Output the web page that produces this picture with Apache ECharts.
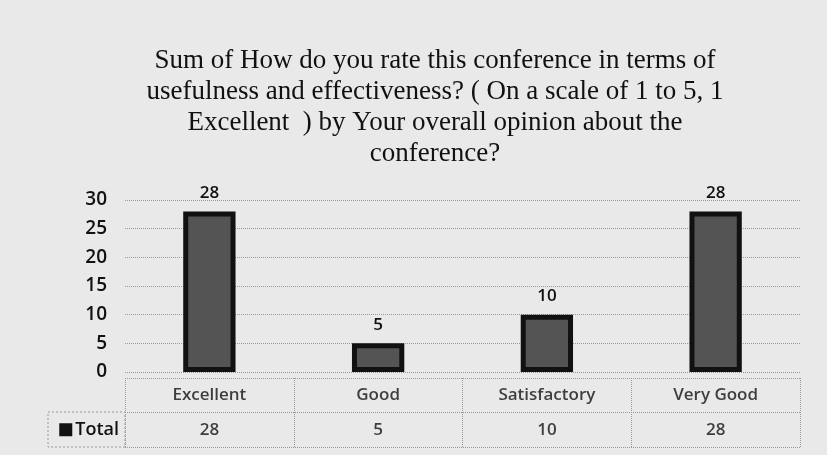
<!DOCTYPE html>
<html>
<head>
<meta charset="utf-8">
<script src="https://cdn.jsdelivr.net/npm/echarts@6/dist/echarts.min.js"></script>
<style>
  html, body { margin: 0; padding: 0; background: #e9e9e9; }
  #chart { width: 827px; height: 455px; }
</style>
</head>
<body>
<div id="chart"></div>
<script>
var categories = ['Excellent', 'Good', 'Satisfactory', 'Very Good'];
var totals = [28, 5, 10, 28];
var seriesName = 'Total';
var yTicks = { min: 0, max: 30, interval: 5 };

var chart = echarts.init(document.getElementById('chart'));

// table cells: row 1 = category names, row 0 = values
var tableCells = [];
categories.forEach(function (c, i) {
    tableCells.push({ value: [i, 1], text: c });
    tableCells.push({ value: [i, 0], text: String(totals[i]) });
});

var dotted = { color: '#999', type: 'dotted', width: 1 };
var font = '"Open Sans", "Liberation Sans", sans-serif';

chart.setOption({
    backgroundColor: '#e9e9e9',
    animation: false,
    title: {
        text: 'Sum of How do you rate this conference in terms of\nusefulness and effectiveness? ( On a scale of 1 to 5, 1\nExcellent  ) by Your overall opinion about the\nconference?',
        left: 430,
        top: 40,
        textAlign: 'center',
        textStyle: {
            fontFamily: '"Liberation Serif", serif',
            fontSize: 27,
            fontWeight: 'normal',
            lineHeight: 31,
            color: '#111'
        }
    },
    graphic: [{
        type: 'rect',
        shape: { x: 48, y: 412, width: 77, height: 35 },
        style: { fill: 'none', stroke: '#999', lineWidth: 1, lineDash: [2, 2] }
    }],
    grid: [
        { left: 125, right: 27, top: 200, height: 172 },
        { left: 125, right: 27, top: 378, height: 69 }
    ],
    xAxis: [{
        gridIndex: 0,
        type: 'category',
        data: categories,
        axisLine: { show: false },
        axisTick: { show: false },
        axisLabel: { show: false }
    }, {
        gridIndex: 1,
        type: 'category',
        data: categories,
        axisLine: { show: false },
        axisTick: { show: false },
        axisLabel: { show: false },
        splitLine: { show: true, lineStyle: dotted }
    }],
    yAxis: [{
        gridIndex: 0,
        type: 'value',
        min: yTicks.min,
        max: yTicks.max,
        interval: yTicks.interval,
        axisLine: { show: false },
        axisTick: { show: false },
        axisLabel: { fontSize: 19, fontWeight: 600, color: '#111', fontFamily: font, margin: 18 },
        splitLine: { lineStyle: dotted }
    }, {
        gridIndex: 1,
        type: 'category',
        data: [seriesName, ''],
        axisLine: { show: false },
        axisTick: { show: false },
        splitLine: { show: true, lineStyle: dotted },
        axisLabel: {
            margin: 6,
            formatter: function (v) { return v ? '{k|}{t|' + v + '}' : ''; },
            fontSize: 18,
            fontWeight: 600,
            color: '#111',
            fontFamily: font,
            rich: {
                k: { width: 13, height: 13, backgroundColor: '#111' },
                t: { fontSize: 18, fontWeight: 600, color: '#111', fontFamily: font, padding: [0, 0, 0, 3] }
            }
        }
    }],
    series: [{
        name: seriesName,
        type: 'bar',
        xAxisIndex: 0,
        yAxisIndex: 0,
        data: totals,
        barWidth: '31%',
        itemStyle: { color: '#545454', borderColor: '#111', borderWidth: 5 },
        label: {
            show: true,
            position: 'top',
            distance: 10,
            fontSize: 17,
            fontWeight: 600,
            color: '#111',
            fontFamily: font
        }
    }, {
        type: 'scatter',
        xAxisIndex: 1,
        yAxisIndex: 1,
        symbolSize: 1,
        itemStyle: { color: 'rgba(0,0,0,0)' },
        data: tableCells,
        label: {
            show: true,
            position: 'inside',
            formatter: function (p) { return p.data.text; },
            fontSize: 17,
            fontWeight: 600,
            color: '#111',
            fontFamily: font
        }
    }]
});
</script>
</body>
</html>
